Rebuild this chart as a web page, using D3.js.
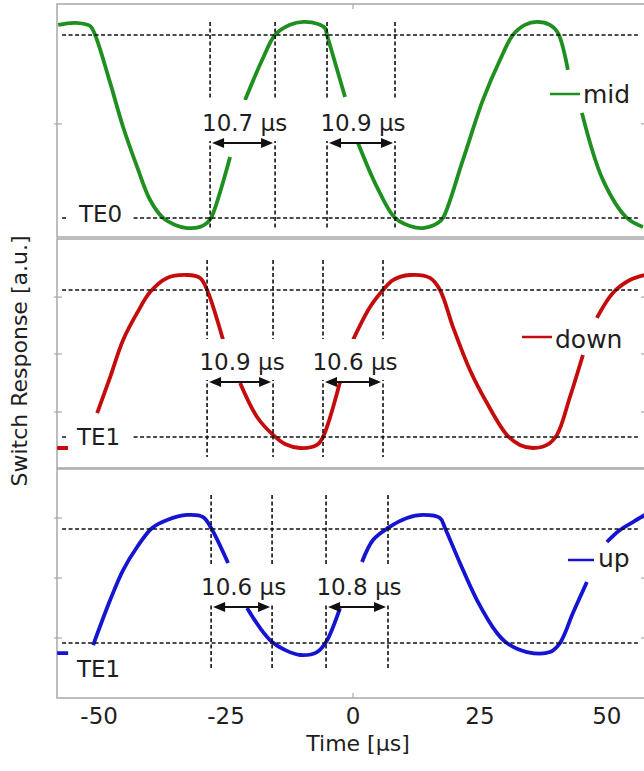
<!DOCTYPE html>
<html lang="en">
<head>
<meta charset="UTF-8">
<style>
  body { margin: 0; background: #fff; }
  svg { display: block; font-family: "DejaVu Sans", Verdana, sans-serif; }
  .frame { fill: none; stroke: #a8a8a8; stroke-width: 1.5; }
  .tick { stroke: #a8a8a8; stroke-width: 1.2; }
  .ref { stroke: #111; stroke-width: 1.6; stroke-dasharray: 4,2.5; fill: none; }
  .trace { fill: none; stroke-width: 3.8; stroke-linejoin: round; stroke-linecap: butt; }
  .arrow { stroke: #111; stroke-width: 2; }
  text { fill: #1e1e1e; }
</style>
<script src="https://d3js.org/d3.v7.min.js"></script>
</head>
<body>
<svg id="chart"></svg>
<script>
// time axis (µs)
const timeDomain = [-58.3, 57.9];
const timeTicks = [-50, -25, 0, 25, 50];
const timeTickMarks = [0];

// levels: 0 = lower reference (TE), 1 = upper reference
const refLevels = [0, 1];
const refSpan = [-57.3, 56.1];

// mid (green)
const midTrace = [
  [-58.07,1.055],[-54.7,1.066],[-51.77,1.049],[-50.79,1.0],[-47.83,0.738],[-45.28,0.497],
  [-42.52,0.279],[-39.96,0.098],[-37.4,0],[-35.04,-0.038],[-32.68,-0.055],[-30.12,-0.049],
  [-28.74,-0.027],[-27.95,0],[-24.21,0.333], null,
  [-21.26,0.645],[-17.72,0.874],[-15.35,1.0],[-12.4,1.055],[-9.84,1.071],[-6.89,1.06],
  [-5.51,1.038],[-5.12,1.0],[-1.57,0.661], null,
  [0.98,0.41],[4.72,0.169],[8.27,0],[11.22,-0.044],[13.78,-0.055],[16.73,-0.027],[17.72,0],
  [21.65,0.317],[25.59,0.645],[28.94,0.863],[31.5,1.0],[33.86,1.055],[36.22,1.071],
  [38.78,1.055],[40.35,1.011],[42.32,0.809], null,
  [45.08,0.574],[49.21,0.208],[53.94,0],[57.09,-0.049]
];
const midYDomain = [-0.104, 1.169];
const midYTicks = [0.514];
const midMarkers = [-28.15, -15.35, -5.12, 8.27];
const midDelays = ["10.7 µs", "10.9 µs"];

// down (red)
const downTrace = [
  [-58.27,-0.075],[-56.1,-0.075], null,
  [-50.39,0.163],[-47.83,0.408],[-45.28,0.66],[-42.52,0.844],[-39.96,0.986],[-36.61,1.082],
  [-32.68,1.102],[-30.12,1.082],[-28.74,1.0],[-25.59,0.66], null,
  [-22.24,0.367],[-18.9,0.136],[-15.75,0.014],[-13.39,-0.048],[-10.43,-0.075],[-7.09,-0.054],
  [-5.91,0],[-2.56,0.374], null,
  [0,0.66],[3.35,0.884],[5.91,1.0],[7.87,1.068],[11.22,1.102],[15.16,1.082],[17.13,1.0],
  [19.69,0.748],[23.03,0.456],[26.38,0.231],[30.31,0.014],[32.87,-0.054],[35.43,-0.075],
  [38.19,-0.054],[40.16,0.014],[42.72,0.272],[45.28,0.558], null,
  [48.03,0.81],[51.18,0.98],[54.53,1.068],[57.48,1.102]
];
const downYDomain = [-0.211, 1.347];
const downYTicks = [0.17, 0.565, 0.952];
const downMarkers = [-28.74, -15.75, -5.91, 5.91];
const downDelays = ["10.9 µs", "10.6 µs"];

// up (blue)
const upTrace = [
  [-58.27,-0.088],[-56.1,-0.088], null,
  [-51.18,-0.018],[-47.83,0.377],[-45.28,0.64],[-42.52,0.842],[-39.57,1.009],[-36.61,1.079],
  [-32.68,1.123],[-29.53,1.105],[-27.95,1.009],[-24.61,0.702], null,
  [-20.87,0.307],[-18.31,0.132],[-15.94,0.009],[-13.39,-0.061],[-10.43,-0.105],[-7.09,-0.079],
  [-5.31,0.009],[-2.56,0.307], null,
  [1.77,0.711],[3.94,0.904],[6.89,1.009],[10.63,1.096],[13.78,1.123],[17.13,1.096],[18.11,1.009],
  [21.06,0.702],[24.41,0.377],[28.35,0.088],[30.31,0],[34.25,-0.079],[38.78,-0.079],[40.75,0],
  [43.31,0.263],[46.06,0.535], null,
  [50.0,0.886],[52.56,0.991],[55.12,1.061],[57.48,1.123]
];
const upYDomain = [-0.482, 1.526];
const upYTicks = [0.044, 0.57, 1.096];
const upMarkers = [-27.95, -15.94, -5.31, 6.89];
const upDelays = ["10.6 µs", "10.8 µs"];

const seriesNames = ["mid", "down", "up"];
const seriesColors = ["#1f8f1f", "#c40c0c", "#1414d2"];
const teLabels = ["TE0", "TE1", "TE1"];

// page layout in pixels
const W = 644, H = 771, left = 57, right = 647;
const layout = [
  { top: 4, bottom: 237, arrowY: 143, vLine: [22, 230],
    legend: { x0: 550, x1: 580, y: 94, tx: 583, ty: 103 },
    te: { x: 79, y: 222, box: [68, 204, 64, 26] } },
  { top: 239, bottom: 468, arrowY: 382, vLine: [260, 457],
    legend: { x0: 522, x1: 552, y: 337, tx: 555, ty: 348 },
    te: { x: 77, y: 445, box: [68, 424, 64, 26] } },
  { top: 469, bottom: 698, arrowY: 607, vLine: [495, 668],
    legend: { x0: 568, x1: 594, y: 560, tx: 598, ty: 567 },
    te: { x: 77, y: 677, box: null } }
];

const panels = [
  { trace: midTrace, yDomain: midYDomain, yTicks: midYTicks, markers: midMarkers, delays: midDelays },
  { trace: downTrace, yDomain: downYDomain, yTicks: downYTicks, markers: downMarkers, delays: downDelays },
  { trace: upTrace, yDomain: upYDomain, yTicks: upYTicks, markers: upMarkers, delays: upDelays }
];

const svg = d3.select("#chart").attr("width", W).attr("height", H);
svg.append("rect").attr("width", W).attr("height", H).attr("fill", "#fff");

const x = d3.scaleLinear().domain(timeDomain).range([left, right]);

panels.forEach((p, i) => {
  const L = layout[i];
  const y = d3.scaleLinear().domain(p.yDomain).range([L.bottom, L.top]);
  const g = svg.append("g");
  const color = seriesColors[i];

  g.append("rect").attr("class", "frame")
    .attr("x", left).attr("y", L.top)
    .attr("width", right - left).attr("height", L.bottom - L.top);

  // y ticks both sides
  p.yTicks.forEach(v => {
    g.append("line").attr("class", "tick")
      .attr("x1", left - 3).attr("x2", left + 5).attr("y1", y(v)).attr("y2", y(v));
    g.append("line").attr("class", "tick")
      .attr("x1", right - 6).attr("x2", right).attr("y1", y(v)).attr("y2", y(v));
  });

  const line = d3.line()
    .defined(d => d !== null)
    .x(d => x(d[0]))
    .y(d => y(d[1]))
    .curve(d3.curveCatmullRom.alpha(0.5));

  g.append("path").attr("class", "trace")
    .attr("stroke", color)
    .attr("d", line(p.trace));

  // reference levels
  refLevels.forEach(v => {
    g.append("line").attr("class", "ref")
      .attr("x1", x(refSpan[0])).attr("x2", x(refSpan[1]))
      .attr("y1", y(v)).attr("y2", y(v));
  });

  // marker lines
  p.markers.forEach(t => {
    g.append("line").attr("class", "ref")
      .attr("x1", x(t)).attr("x2", x(t))
      .attr("y1", L.vLine[0]).attr("y2", L.vLine[1]);
  });

  // delay annotations
  p.delays.forEach((txt, k) => {
    const xa = x(p.markers[2 * k]), xb = x(p.markers[2 * k + 1]);
    const ay = L.arrowY;
    g.append("rect").attr("fill", "#fff")
      .attr("x", xa - 14).attr("y", ay - 43)
      .attr("width", xb - xa + 28).attr("height", 41);
    g.append("line").attr("class", "arrow")
      .attr("x1", xa + 8).attr("x2", xb - 8).attr("y1", ay).attr("y2", ay);
    const a0 = xa + 2, b0 = xb - 2;
    g.append("path").attr("fill", "#111")
      .attr("d", `M${a0},${ay} L${a0 + 12},${ay - 5} L${a0 + 12},${ay + 5} Z`);
    g.append("path").attr("fill", "#111")
      .attr("d", `M${b0},${ay} L${b0 - 12},${ay - 5} L${b0 - 12},${ay + 5} Z`);
    g.append("text")
      .attr("x", (xa + xb) / 2 + 2).attr("y", ay - 12)
      .attr("text-anchor", "middle").attr("font-size", 23)
      .text(txt);
  });

  // TE label
  if (L.te.box) {
    g.append("rect").attr("fill", "#fff")
      .attr("x", L.te.box[0]).attr("y", L.te.box[1])
      .attr("width", L.te.box[2]).attr("height", L.te.box[3]);
  }
  g.append("text").attr("x", L.te.x).attr("y", L.te.y)
    .attr("font-size", 23).text(teLabels[i]);

  // legend
  g.append("line")
    .attr("x1", L.legend.x0).attr("x2", L.legend.x1)
    .attr("y1", L.legend.y).attr("y2", L.legend.y)
    .attr("stroke", color).attr("stroke-width", 2.5);
  g.append("text").attr("x", L.legend.tx).attr("y", L.legend.ty)
    .attr("font-size", 25).text(seriesNames[i]);
});

// time tick marks (top and bottom)
timeTickMarks.forEach(t => {
  svg.append("line").attr("class", "tick")
    .attr("x1", x(t)).attr("x2", x(t)).attr("y1", layout[0].top).attr("y2", layout[0].top + 5);
  svg.append("line").attr("class", "tick")
    .attr("x1", x(t)).attr("x2", x(t)).attr("y1", layout[2].bottom - 5).attr("y2", layout[2].bottom);
});

svg.append("g").selectAll("text")
  .data(timeTicks)
  .join("text")
  .attr("x", d => x(d))
  .attr("y", 724)
  .attr("text-anchor", "middle")
  .attr("font-size", 23)
  .text(d => d);

svg.append("text")
  .attr("x", 358).attr("y", 751)
  .attr("text-anchor", "middle").attr("font-size", 22)
  .text("Time [µs]");

svg.append("text")
  .attr("transform", "translate(27,361) rotate(-90)")
  .attr("text-anchor", "middle").attr("font-size", 22)
  .text("Switch Response [a.u.]");
</script>
</body>
</html>
